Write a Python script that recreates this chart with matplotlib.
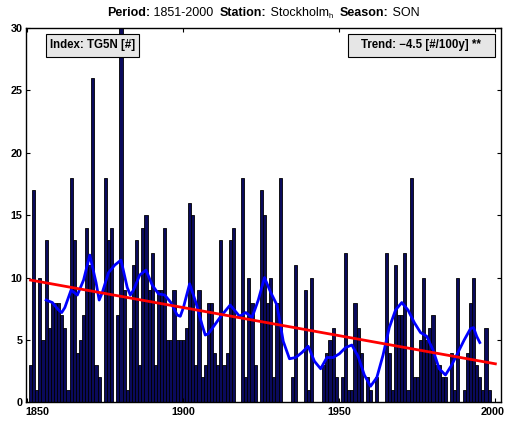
import matplotlib
matplotlib.use("Agg")
import matplotlib.pyplot as plt
from matplotlib import font_manager
from matplotlib.patches import Rectangle
from matplotlib.transforms import ScaledTranslation

# pick the regular-width Liberation Sans files (not the Narrow ones)
def find_font(name):
    for f in font_manager.findSystemFonts():
        if f.endswith(name):
            return f
    return None

reg_file = find_font('LiberationSans-Regular.ttf')
bold_file = find_font('LiberationSans-Bold.ttf')
if reg_file and bold_file:
    f_reg = font_manager.FontProperties(fname=reg_file)
    f_bold = font_manager.FontProperties(fname=bold_file)
else:
    f_reg = font_manager.FontProperties(family='DejaVu Sans')
    f_bold = font_manager.FontProperties(family='DejaVu Sans', weight='bold')

# yearly TG5N counts, 1851-2000 (1880 runs off the top of the axis)
years = list(range(1851, 2001))
counts = [
    3, 17, 1, 10, 5, 13, 6, 8, 8, 8,
    7, 6, 1, 18, 13, 4, 5, 7, 14, 11,
    26, 3, 2, 0, 18, 13, 14, 0, 7, 31,
    9, 1, 6, 11, 13, 3, 14, 15, 9, 12,
    3, 9, 9, 14, 5, 5, 9, 5, 5, 5,
    6, 16, 15, 3, 9, 2, 3, 8, 8, 4,
    3, 13, 3, 4, 13, 14, 0, 0, 18, 2,
    10, 8, 3, 0, 17, 15, 8, 10, 2, 8,
    18, 0, 0, 0, 2, 11, 0, 0, 9, 1,
    10, 0, 0, 0, 3, 4, 5, 6, 2, 0,
    2, 12, 1, 1, 8, 6, 4, 0, 2, 1,
    0, 2, 0, 0, 12, 4, 1, 11, 7, 7,
    12, 1, 18, 2, 2, 5, 10, 5, 6, 7,
    3, 3, 2, 2, 0, 4, 1, 10, 0, 1,
    4, 8, 10, 3, 2, 1, 6, 1, 0, 0,
]

# low-pass filtered curve
smooth_years = [1856, 1858, 1860, 1861, 1862, 1864, 1866, 1868, 1870, 1872,
                1873, 1874, 1876, 1878, 1880, 1882, 1883, 1884, 1886, 1888,
                1890, 1892, 1894, 1896, 1898, 1899, 1900, 1902, 1904, 1906,
                1907, 1908, 1910, 1912, 1914, 1915, 1916, 1918, 1920, 1922,
                1924, 1926, 1928, 1930, 1932, 1934, 1936, 1938, 1940, 1942,
                1944, 1946, 1948, 1950, 1952, 1954, 1956, 1958, 1960, 1962,
                1964, 1966, 1968, 1970, 1972, 1974, 1976, 1978, 1980, 1982,
                1984, 1986, 1988, 1990, 1992, 1993, 1994, 1995]
smooth_values = [8.2, 8.0, 7.4, 7.2, 7.6, 9.0, 8.6, 9.8, 11.8, 9.6,
                 8.2, 8.8, 10.4, 11.0, 11.4, 9.2, 8.6, 9.0, 10.2, 10.6,
                 9.4, 8.7, 8.6, 8.0, 7.0, 6.9, 7.6, 9.5, 8.0, 6.2,
                 5.4, 5.5, 6.2, 6.9, 7.5, 7.8, 7.5, 6.9, 7.2, 6.8,
                 8.2, 10.0, 8.8, 7.8, 4.9, 3.5, 3.6, 4.0, 4.5, 3.3,
                 2.7, 3.6, 3.6, 3.9, 4.4, 4.6, 3.7, 2.2, 1.3, 2.0,
                 3.8, 6.0, 7.4, 8.0, 7.4, 6.4, 5.6, 5.3, 4.2, 2.7,
                 2.2, 3.0, 4.0, 5.0, 5.9, 6.0, 5.3, 4.8]

trend_per_100y = -4.5
trend_start = 9.8  # trend value in 1851

title_parts = [("Period:", True), (" 1851-2000  ", False), ("Station:", True),
               (" Stockholm", False), ("h", False), ("  ", False),
               ("Season:", True), (" SON", False)]

fig = plt.figure(figsize=(5.06, 4.23), dpi=100)
ax = fig.add_axes([0.0514, 0.0485, 0.9387, 0.886])

ax.bar(years, counts, width=1.0, color='#0a0a5c', edgecolor='black', linewidth=0.6)
ax.plot(smooth_years, smooth_values, color='blue', linewidth=2)
trend_x = [years[0], years[-1]]
trend_y = [trend_start, trend_start + trend_per_100y * (years[-1] - years[0]) / 100]
ax.plot(trend_x, trend_y, color='red', linewidth=2)

ax.set_xlim(1849.55, 2001.8)
ax.set_ylim(0, 30)
ax.set_xticks([1850, 1900, 1950, 2000])
ax.set_yticks(range(0, 31, 5))
ax.tick_params(direction='in', length=3, width=0.8, top=True, right=True)
ax.tick_params(axis='x', pad=3.5)
ax.tick_params(axis='y', pad=2.5)
for lab in ax.get_xticklabels() + ax.get_yticklabels():
    lab.set_fontproperties(f_bold)
    lab.set_fontsize(7.8)
for s in ax.spines.values():
    s.set_linewidth(1.0)

# MATLAB-like nudges for the end labels of the x axis
xlabs = ax.get_xticklabels()
xlabs[0].set_transform(xlabs[0].get_transform() + ScaledTranslation(10 / 100, 0, fig.dpi_scale_trans))
xlabs[-1].set_transform(xlabs[-1].get_transform() + ScaledTranslation(-3 / 100, 0, fig.dpi_scale_trans))

# title built from bold / normal pieces laid side by side
fig.canvas.draw()
renderer = fig.canvas.get_renderer()
pieces = []
for txt, bold in title_parts:
    fp = (f_bold if bold else f_reg).copy()
    sub = txt == "h"
    fp.set_size(5.5 if sub else 9)
    t = fig.text(0, 0, txt, fontproperties=fp, ha='left', va='baseline')
    w = t.get_window_extent(renderer).width
    pieces.append((t, w, sub))
total = sum(p[1] for p in pieces)
x = 263 - total / 2
for t, w, sub in pieces:
    t.set_position((x / 506, (423 - (18.5 if sub else 16)) / 423))
    x += w

# annotation boxes
fb = f_bold.copy()
fb.set_size(8.3)
for x0, x1, label in [(0.042, 0.238, "Index: TG5N [#]"),
                      (0.678, 0.987, "Trend: \u22124.5 [#/100y] **")]:
    ax.add_patch(Rectangle((x0, 0.922), x1 - x0, 0.062, transform=ax.transAxes,
                           facecolor='#e6e6e6', edgecolor='black', linewidth=0.8,
                           zorder=5))
    ax.text((x0 + x1) / 2, 0.953, label, transform=ax.transAxes, fontproperties=fb,
            ha='center', va='center', zorder=6)

fig.savefig('out.png', dpi=100)
